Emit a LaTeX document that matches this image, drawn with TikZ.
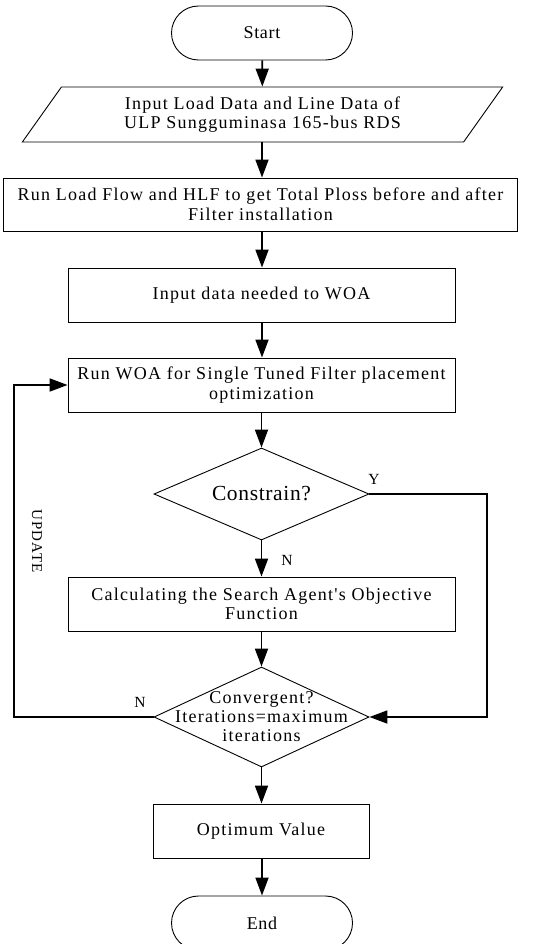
\documentclass[tikz,border=0pt]{standalone}
\usepackage{fontspec}
\setmainfont{Liberation Serif}
\newfontfamily\spacedfont[LetterSpace=7]{Liberation Serif}
\newfontfamily\lightfont[LetterSpace=4]{Liberation Serif}
\newfontfamily\smallspaced[LetterSpace=8]{Liberation Serif}
\newfontfamily\consfont[LetterSpace=3]{Liberation Serif}
\usetikzlibrary{arrows.meta,shapes.geometric}
\begin{document}
\begin{tikzpicture}[x=1pt,y=-1pt,
  txt/.style={font=\spacedfont\fontsize{18}{19.5}\selectfont, align=center},
  box/.style={draw, line width=0.9pt, minimum height=54pt, inner sep=2pt, txt},
  term/.style={draw, line width=0.9pt, rounded corners=27pt, minimum width=181pt, minimum height=54pt, inner sep=0pt, font=\lightfont\fontsize{18}{20}\selectfont},
  decision/.style={draw, shape=diamond, line width=0.9pt, minimum width=215pt, inner sep=0pt},
  para/.style={draw, shape=trapezium, trapezium left angle=53.3, trapezium right angle=126.7, trapezium stretches=true, line width=0.9pt, minimum width=481pt, minimum height=55pt, inner sep=0pt, txt},
  conn/.style={line width=1.8pt, line join=miter, -{Triangle[length=18pt,width=13pt]}},
  lbl/.style={font=\lightfont\fontsize{15.5}{16}\selectfont, inner sep=0pt},
  constxt/.style={inner sep=0pt, font=\consfont\fontsize{21.5}{24}\selectfont},
  convtxt/.style={inner sep=0pt, align=center, font=\spacedfont\fontsize{18}{19}\selectfont}
]
\useasboundingbox (0,0) rectangle (558,944);

\node[term] (start) at (262,33) {Start};
\node[para] (input) at (262.5,114.5) {Input Load Data and Line Data of\\ULP Sungguminasa 165-bus RDS};
\node[box, minimum width=514pt, minimum height=53pt] (flow) at (260.5,204.5) {Run Load Flow and HLF to get Total Ploss before and after\\Filter installation};
\node[box, minimum width=387pt] (woain) at (261.5,295) {Input data needed to WOA};
\node[box, minimum width=387pt] (run) at (261.5,385) {Run WOA for Single Tuned Filter placement\\optimization};
\node[decision, minimum height=92pt, label={[constxt]center:Constrain?}] (cons) at (261.5,494) {};
\node[box, minimum width=387pt] (calc) at (261.5,604) {Calculating the Search Agent's Objective\\Function};
\node[decision, minimum height=100pt, label={[convtxt]center:{Convergent?\\Iterations=maximum\\iterations}}] (conv) at (261.5,717) {};
\node[box, minimum width=216pt] (opt) at (261,831) {Optimum Value};
\node[term] (end) at (262,923) {End};

\coordinate (yc) at (487,494);
\coordinate (nc) at (14,717);

\draw[conn] (start) -- (input);
\draw[conn] (input.south -| start) -- (flow.north -| start);
\draw[conn] (flow.south -| start) -- (woain.north -| start);
\draw[conn] (woain.south -| start) -- (run.north -| start);
\draw[conn] (run.south -| cons) -- (cons.north);
\draw[conn] (cons.south) -- (calc.north -| cons);
\draw[conn] (calc.south -| conv) -- (conv.north);
\draw[conn] (conv.south) -- (opt.north -| conv);
\draw[conn] (opt.south -| end) -- (end.north);
\draw[conn] (cons.east) -- (yc) |- (conv.east);
\draw[conn] (conv.west) -- (nc) |- (run.west);

\node[lbl] (ylab) at (374,479) {Y};
\node[lbl] (nlab1) at (287,560) {N};
\node[lbl] (nlab2) at (140,702) {N};
\node[lbl, font=\smallspaced\fontsize{15}{16}\selectfont, rotate=-90] (upd) at (37,541) {UPDATE};
\end{tikzpicture}
\end{document}
